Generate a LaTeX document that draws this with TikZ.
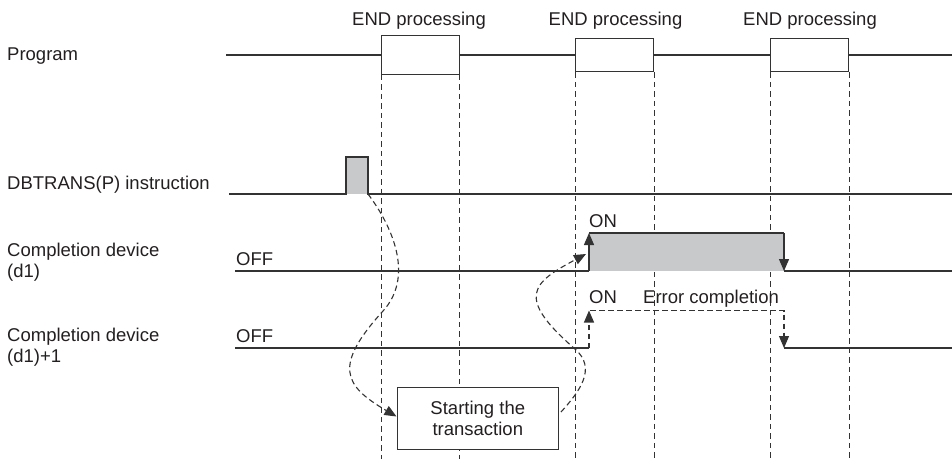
\documentclass[tikz,border=0pt]{standalone}
\usepackage{fontspec}
\setmainfont{Liberation Sans}
\usetikzlibrary{arrows.meta}
\definecolor{txt}{HTML}{231F20}
\definecolor{ln}{HTML}{333333}
\definecolor{gfill}{HTML}{C8C9CB}
\begin{document}
\begin{tikzpicture}[x=1pt,y=-1pt,
  font=\fontsize{18.5}{20.5}\selectfont,
  every node/.style={text=txt},
  sig/.style={draw=ln, line width=1.3pt},
  vdash/.style={draw=ln, line width=1.1pt, dash pattern=on 5.5pt off 4pt},
  cdash/.style={draw=ln, line width=1.1pt, dash pattern=on 5.5pt off 3.5pt},
  tip/.style={-{Triangle[width=10pt,length=12pt]}},
  endbox/.style={draw=ln, line width=1.3pt, fill=white, inner sep=0pt, minimum width=78pt, minimum height=33.6pt},
  lbl/.style={anchor=base west, inner sep=0pt},
  ttl/.style={anchor=base, inner sep=0pt}]
\useasboundingbox (0,0) rectangle (952,459);
\coordinate (bot) at (0,459);

% END processing boxes
\node[endbox, minimum width=77.5pt, minimum height=38.6pt] (e1) at (420.5,55) {};
\node[endbox] (e2) at (614.7,55) {};
\node[endbox] (e3) at (809.7,55) {};
\node[ttl] (t1) at (419,25.7) {END processing};
\node[ttl] (t2) at (615.5,25.7) {END processing};
\node[ttl] (t3) at (810,25.7) {END processing};

% dashed verticals
\foreach \b in {e1,e2,e3}{
  \draw[vdash] (\b.south west) -- (\b.south west |- bot);
  \draw[vdash] (\b.south east) -- (\b.south east |- bot);
}

% left labels
\node[lbl] (lp) at (7,60.7) {Program};
\node[lbl] (ld) at (7,189.5) {DBTRANS(P) instruction};
\node[lbl] (lc1) at (7,256.5) {Completion device};
\node[lbl] (lc1b) at (7,277) {(d1)};
\node[lbl] (lc2) at (7,341.5) {Completion device};
\node[lbl] (lc2b) at (7,362) {(d1)+1};
\node[lbl] (off1) at (236,265.5) {OFF};
\node[lbl] (off2) at (236,342.5) {OFF};
\node[lbl] (on1) at (589,227) {ON};
\node[lbl] (on2) at (589,303) {ON};
\node[lbl] (err) at (643,303) {Error completion};

% Program line
\coordinate (p0) at (226,55);
\coordinate (p1) at (952,55);
\draw[sig] (p0) -- (e1.west);
\draw[sig] (e1.east) -- (e2.west);
\draw[sig] (e2.east) -- (e3.west);
\draw[sig] (e3.east) -- (p1);

% DBTRANS pulse
\fill[gfill] (346,157) rectangle (368,194);
\coordinate (pulseR) at (368,194);
\draw[sig] (229,194) -- (346,194) -- (346,157) -- (368,157) -- (pulseR) -- (952,194);

% Completion device (d1)
\fill[gfill] (589,233) rectangle (784,271);
\draw[sig] (235,271) -- (589,271);
\draw[sig, tip] (589,271) -- (589,233);
\draw[sig] (589,233) -- (784,233);
\draw[sig, tip] (784,233) -- (784,271);
\draw[sig] (784,271) -- (952,271);

% Completion device (d1)+1
\draw[sig] (235,348) -- (589,348);
\draw[cdash, tip] (589,348) -- (589,310.5);
\draw[cdash, tip] (590,310.5) -- (784,310.5) -- (784,348);
\draw[sig] (784,348) -- (952,348);

% Starting the transaction box
\node[draw=ln, line width=1.3pt, fill=white, minimum width=161pt, minimum height=62pt,
      inner sep=0pt, align=center, font=\fontsize{18.5}{21.7}\selectfont] (st) at (477.8,418.3)
      {Starting the\\transaction};

% dashed curves
\coordinate (c1m) at (383,311);
\coordinate (c1e) at (396.5,416.5);
\draw[cdash, tip] (pulseR) .. controls (395,230) and (413,278) .. (c1m)
   .. controls (333,366) and (343.5,385.5) .. (c1e);
\coordinate (c2s) at (561,412);
\coordinate (c2m) at (575,349);
\coordinate (c2e) at (586,254);
\draw[cdash, tip] (c2s) .. controls (579,392) and (597.5,368.5) .. (c2m)
   .. controls (515,297) and (532,282.8) .. (c2e);
\end{tikzpicture}
\end{document}
